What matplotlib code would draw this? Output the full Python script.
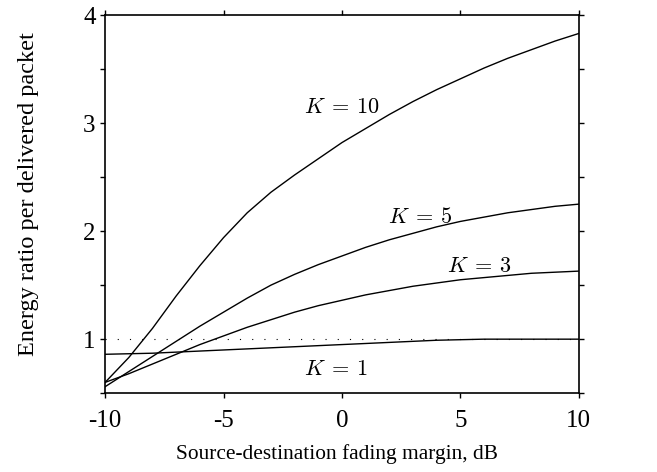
import numpy as np
import matplotlib.pyplot as plt

plt.rcParams['font.family'] = ['Liberation Serif', 'DejaVu Serif']
plt.rcParams['mathtext.fontset'] = 'cm'

# fading margin, dB
margin = [-10, -9, -8, -7, -6, -5, -4, -3, -2, -1, 0, 1, 2, 3, 4, 5, 6, 7, 8, 9, 10]

# energy ratio per delivered packet
k10 = [0.60, 0.83, 1.10, 1.40, 1.68, 1.94, 2.17, 2.36, 2.52, 2.67, 2.82,
       2.95, 3.08, 3.20, 3.31, 3.41, 3.51, 3.60, 3.68, 3.76, 3.83]
k5 = [0.56, 0.70, 0.84, 0.98, 1.12, 1.25, 1.38, 1.50, 1.60, 1.69, 1.77,
      1.85, 1.92, 1.98, 2.04, 2.09, 2.13, 2.17, 2.20, 2.23, 2.25]
k3 = [0.60, 0.68, 0.77, 0.86, 0.95, 1.03, 1.11, 1.18, 1.25, 1.31, 1.36,
      1.41, 1.45, 1.49, 1.52, 1.55, 1.57, 1.59, 1.61, 1.62, 1.63]
k1 = [0.86, 0.865, 0.87, 0.88, 0.89, 0.90, 0.91, 0.92, 0.93, 0.94, 0.95,
      0.96, 0.97, 0.98, 0.99, 0.995, 1.0, 1.0, 1.0, 1.0, 1.0]

curve_labels = [r"$K\:=\:10$", r"$K\:=\:5$", r"$K\:=\:3$", r"$K\:=\:1$"]
label_pos = [(0.0, 3.14), (3.3, 2.12), (5.8, 1.66), (-0.25, 0.71)]

fig = plt.figure(figsize=(6.57, 4.72), dpi=100)
ax = fig.add_axes([0.16, 0.167, 0.721, 0.801])

# reference level 1
ax.plot([-10, 10], [1, 1], color="black", lw=0.8, linestyle=(0, (1, 10)))
for ys in (k10, k5, k3, k1):
    ax.plot(margin, ys, color="black", lw=1.0)

for txt, (xt, yt) in zip(curve_labels, label_pos):
    ax.text(xt, yt, txt, ha="center", va="center", fontsize=16)

ax.set_xlim(-10, 10)
ax.set_ylim(0.5, 4)
ax.set_xticks([-10, -5, 0, 5, 10])
ax.set_xticklabels(["-10", "-5", "0", "5", "10"])
ax.set_yticks([1, 2, 3, 4])
ax.set_yticks([0.5, 1.5, 2.5, 3.5], minor=True)

ax.tick_params(which="both", direction="out", length=3.8, width=1,
               top=True, right=True, labelsize=18)
ax.tick_params(axis="x", pad=8)
ax.tick_params(axis="y", pad=3)
for sp in ax.spines.values():
    sp.set_linewidth(1.2)

ax.set_xlabel("Source-destination fading margin, dB", fontsize=15.4)
ax.set_ylabel("Energy ratio per delivered packet", fontsize=17.5)
ax.xaxis.set_label_coords(0.49, -0.135)
ax.yaxis.set_label_coords(-0.14, 0.526)

fig.savefig("out.png", dpi=100)
